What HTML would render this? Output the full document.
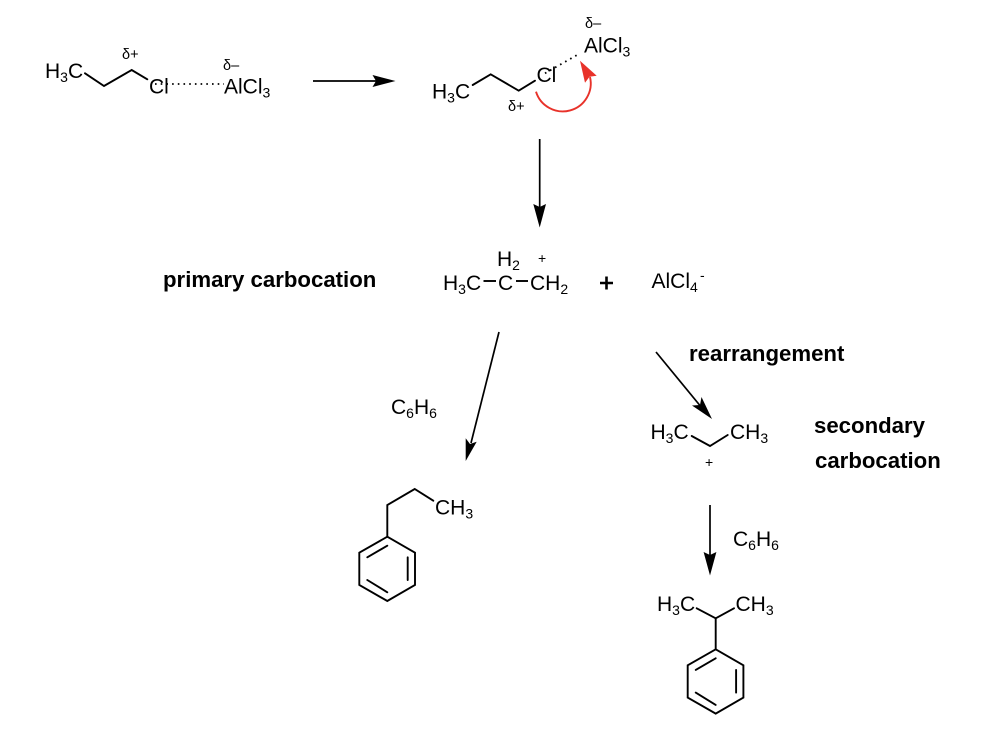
<!DOCTYPE html>
<html>
<head>
<meta charset="utf-8">
<style>
html,body{margin:0;padding:0;background:#fff;width:988px;height:752px;overflow:hidden}
svg{display:block}
text{font-family:"Liberation Sans",sans-serif;fill:#000}
.t{font-size:21px}
.s{font-size:14px}
.d{font-size:14.5px}
.b{font-size:22.2px;font-weight:bold}
.l{fill:none;stroke:#000;stroke-width:1.9;stroke-linecap:round;stroke-linejoin:miter}
.a{stroke:#000;stroke-width:1.7;fill:none}
</style>
</head>
<body>
<svg width="988" height="752" viewBox="0 0 988 752" xmlns="http://www.w3.org/2000/svg">
<defs>
<g id="ring">
<path class="l" d="M387.3 536.7L415 552.7V585L387.3 601L359.3 585V552.7Z"/>
<path class="l" d="M367.3 557.3L387.3 545.7M407.7 557.3V580M367.3 580L387.3 592.3"/>
</g>
</defs>

<!-- Molecule 1 -->
<text class="t" x="45" y="78">H<tspan class="s" dy="4">3</tspan><tspan dy="-4">C</tspan></text>
<path class="l" d="M85 73.3L104 86L131.7 70L147.3 79.3"/>
<text class="t" x="149" y="93.5">Cl</text>
<text class="t" x="224" y="93.5">AlCl<tspan class="s" dy="4">3</tspan></text>
<line x1="155" y1="84" x2="224" y2="84" stroke="#000" stroke-width="1.8" stroke-dasharray="1.6 4.1"/>
<text class="d" x="122" y="59">δ+</text>
<text class="d" x="223" y="70">δ–</text>

<!-- Arrow 1 -->
<line class="a" x1="313" y1="81" x2="380" y2="81"/>
<path d="M395.5 81L372.5 75L376 81L372.5 87Z"/>

<!-- Molecule 2 -->
<text class="t" x="432" y="98.5">H<tspan class="s" dy="4">3</tspan><tspan dy="-4">C</tspan></text>
<path class="l" d="M472.7 85L490.7 74.3L518.7 90.7L535 80.7"/>
<text class="t" x="536.5" y="82">Cl</text>
<text class="t" x="584" y="52.5">AlCl<tspan class="s" dy="4">3</tspan></text>
<line x1="545" y1="73.3" x2="580" y2="53.3" stroke="#000" stroke-width="1.8" stroke-dasharray="1.6 4.2"/>
<text class="d" x="585" y="28">δ–</text>
<text class="d" x="508" y="111">δ+</text>
<path d="M536 91.7A28 28 0 0 0 590 77" fill="none" stroke="#e8322a" stroke-width="1.9"/>
<path d="M580 60.7L596.7 75.7L589.5 76.7L585 82.7Z" fill="#e8322a"/>

<!-- Arrow 2 -->
<line class="a" x1="539.7" y1="139" x2="539.7" y2="212"/>
<path d="M539.7 227.5L533.3 204L539.7 207L546 204Z"/>

<!-- Primary -->
<text class="b" x="163" y="287">primary carbocation</text>
<text class="t" x="443" y="290">H<tspan class="s" dy="4">3</tspan><tspan dy="-4">C</tspan></text>
<line x1="483.5" y1="281" x2="496" y2="281" stroke="#000" stroke-width="1.9"/>
<text class="t" x="498" y="290">C</text>
<line x1="516" y1="281" x2="528" y2="281" stroke="#000" stroke-width="1.9"/>
<text class="t" x="530" y="290">CH<tspan class="s" dy="4">2</tspan></text>
<text class="t" x="497" y="266">H<tspan class="s" dy="4">2</tspan></text>
<text class="s" x="538" y="263">+</text>
<path d="M600 283H613M606.5 276.5V289.5" stroke="#000" stroke-width="2.6" fill="none"/>
<text class="t" x="651.5" y="288">AlCl<tspan class="s" dy="4">4</tspan></text>
<text class="s" x="700" y="280">-</text>

<!-- Arrow left -->
<line class="a" x1="499" y1="332" x2="471" y2="443"/>
<path d="M465.7 461L465.7 438.3L470 444L476.7 441.7Z"/>
<text class="t" x="391" y="414">C<tspan class="s" dy="4">6</tspan><tspan dy="-4">H</tspan><tspan class="s" dy="4">6</tspan></text>

<!-- Propylbenzene -->
<path class="l" d="M433.3 500.7L414.7 489L387.3 505V536.7"/>
<text class="t" x="435" y="514.5">CH<tspan class="s" dy="4">3</tspan></text>
<use href="#ring"/>

<!-- Arrow right -->
<line class="a" x1="656" y1="352" x2="702" y2="408"/>
<path d="M712 419L692 405.5L700 405L701.5 397Z"/>
<text class="b" x="689" y="361">rearrangement</text>

<!-- Secondary -->
<text class="t" x="650.5" y="439">H<tspan class="s" dy="4">3</tspan><tspan dy="-4">C</tspan></text>
<path class="l" d="M691.7 436L710 446L727.7 435"/>
<text class="t" x="730" y="439">CH<tspan class="s" dy="4">3</tspan></text>
<text class="s" x="705" y="467">+</text>
<text class="b" x="814" y="433">secondary</text>
<text class="b" x="815" y="468">carbocation</text>

<!-- Arrow bottom -->
<line class="a" x1="710" y1="505" x2="710" y2="560"/>
<path d="M710 575.5L703.6 552L710 555L716.4 552Z"/>
<text class="t" x="733" y="546">C<tspan class="s" dy="4">6</tspan><tspan dy="-4">H</tspan><tspan class="s" dy="4">6</tspan></text>

<!-- Cumene -->
<text class="t" x="657" y="611">H<tspan class="s" dy="4">3</tspan><tspan dy="-4">C</tspan></text>
<text class="t" x="735.5" y="611">CH<tspan class="s" dy="4">3</tspan></text>
<path class="l" d="M696.7 608.3L715.7 618.3L734 608.3M715.7 618.3V649.3"/>
<use href="#ring" transform="translate(328.4 112.6)"/>
</svg>
</body>
</html>
